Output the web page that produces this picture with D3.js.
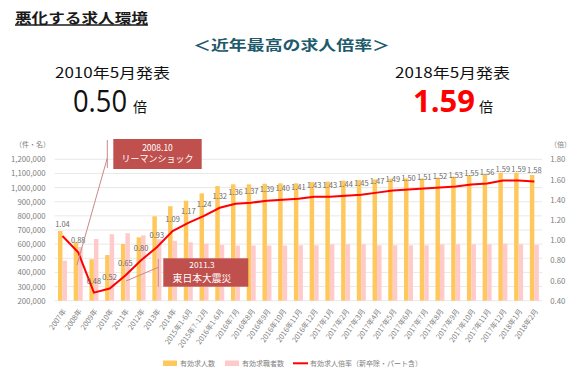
<!DOCTYPE html>
<html><head><meta charset="utf-8">
<script src="https://cdn.jsdelivr.net/npm/d3@7"></script>
<style>body{margin:0;background:#fff}svg{display:block}text{font-family:"Noto Sans CJK JP","Noto Sans",sans-serif}</style>
</head><body><svg id="c" width="581" height="381"></svg>
<script>
const categories = ["2007年","2008年","2009年","2010年","2011年","2012年","2013年","2014年","2015年1-6月","2015年7-12月","2016年1-6月","2016年7月","2016年8月","2016年9月","2016年10月","2016年11月","2016年12月","2017年1月","2017年2月","2017年3月","2017年4月","2017年5月","2017年6月","2017年7月","2017年8月","2017年9月","2017年10月","2017年11月","2017年12月","2018年1月","2018年2月"];
const jobOpenings = [693000,613000,493000,523000,601000,648000,797000,868000,907000,959000,1011000,1023000,1023000,1027000,1030000,1030000,1039000,1042000,1049000,1053000,1058000,1063000,1065000,1065000,1070000,1077000,1087000,1094000,1105000,1105000,1089000];
const jobSeekers = [483000,580000,636000,670000,677000,662000,635000,624000,613000,603000,594000,590000,590000,590000,590000,592000,592000,599000,599000,599000,592000,592000,592000,592000,598000,599000,599000,599000,603000,599000,595000];
const ratio = [1.04,0.88,0.48,0.52,0.65,0.80,0.93,1.09,1.17,1.24,1.32,1.36,1.37,1.39,1.40,1.41,1.43,1.43,1.44,1.45,1.47,1.49,1.50,1.51,1.52,1.53,1.55,1.56,1.59,1.59,1.58];
const leftTicks = [200000,300000,400000,500000,600000,700000,800000,900000,1000000,1100000,1200000];
const rightTicks = [0.4,0.6,0.8,1.0,1.2,1.4,1.6,1.8];
const seriesNames = ["有効求人数","有効求職者数","有効求人倍率（新卒除・パート含）"];

const svg = d3.select("#c");
const X0 = 54.6, X1 = 542.2, YB = 300.7, YT = 159.3;
const x = d3.scaleBand().domain(categories).range([X0, X1]).padding(0);
const xs = d3.scaleBand().domain(["o","s"]).range([0, x.bandwidth()]).paddingInner(0).paddingOuter(0.75);
const yL = d3.scaleLinear().domain([200000,1200000]).range([YB, YT]);
const yR = d3.scaleLinear().domain([0.4,1.8]).range([YB, YT]);
const cx = c => x(c) + x.bandwidth()/2;

// gridlines
svg.append("g").selectAll("line").data(leftTicks).join("line")
  .attr("x1", X0).attr("x2", X1).attr("y1", d => yL(d)).attr("y2", d => yL(d))
  .attr("stroke", "#e2e2e2").attr("stroke-width", 0.8);

// left axis
const gl = svg.append("g").attr("transform", `translate(${X0},0)`)
  .call(d3.axisLeft(yL).tickValues(leftTicks).tickFormat(d3.format(",")).tickSize(0).tickPadding(9));
gl.select(".domain").remove();
gl.selectAll("text").attr("fill", "#7f7f7f").style("font-size", "7.8px");

// right axis
const gr = svg.append("g").attr("transform", `translate(${X1},0)`)
  .call(d3.axisRight(yR).tickValues(rightTicks).tickFormat(d3.format(".2f")).tickSize(0).tickPadding(8));
gr.select(".domain").remove();
gr.selectAll("text").attr("fill", "#7f7f7f").style("font-size", "7.8px");

svg.append("text").attr("x", 15).attr("y", 146.5).text("（件・名）").attr("fill", "#7f7f7f").style("font-size", "7px");
svg.append("text").attr("x", 550).attr("y", 146.5).text("（倍）").attr("fill", "#7f7f7f").style("font-size", "7px");

// x axis
const gx = svg.append("g").attr("transform", `translate(0,${YB})`)
  .call(d3.axisBottom(x).tickSize(0).tickPadding(0));
gx.select(".domain").remove();
gx.selectAll("text").attr("y", 0).attr("dy", "0.35em")
  .attr("transform", "translate(2,9) rotate(-55)")
  .style("text-anchor", "end").attr("fill", "#7f7f7f").style("font-size", "7.3px");

// bars
svg.append("g").selectAll("rect").data(categories).join("rect")
  .attr("x", (c) => x(c) + xs("o")).attr("width", xs.bandwidth())
  .attr("y", (c, i) => yL(jobOpenings[i])).attr("height", (c, i) => YB - yL(jobOpenings[i]))
  .attr("fill", "#ffc85c");
svg.append("g").selectAll("rect").data(categories).join("rect")
  .attr("x", (c) => x(c) + xs("s")).attr("width", xs.bandwidth())
  .attr("y", (c, i) => yL(jobSeekers[i])).attr("height", (c, i) => YB - yL(jobSeekers[i]))
  .attr("fill", "#ffcaca");

// line
svg.append("path").datum(categories)
  .attr("d", d3.line().x(c => cx(c)).y((c, i) => yR(ratio[i])))
  .attr("fill", "none").attr("stroke", "#ff0000").attr("stroke-width", 2);

// data labels
svg.append("g").selectAll("text").data(categories).join("text")
  .attr("x", c => cx(c)).attr("y", (c, i) => yR(ratio[i]) - 9)
  .attr("text-anchor", "middle").text((c, i) => ratio[i].toFixed(2))
  .attr("fill", "#6b6b6b").style("font-size", "7.5px");

// annotations
const annColor = "#c0504d";
svg.append("line").attr("x1", 107.3).attr("y1", 140).attr("x2", 107.3).attr("y2", 168).attr("stroke", "#c98a88").attr("stroke-width", 1);
svg.append("line").attr("x1", 107.3).attr("y1", 158).attr("x2", 77).attr("y2", 265).attr("stroke", "#c98a88").attr("stroke-width", 1);
svg.append("rect").attr("x", 113.3).attr("y", 139).attr("width", 88.4).attr("height", 30).attr("fill", annColor);
svg.append("text").attr("x", 157.5).attr("y", 150.5).attr("text-anchor", "middle").text("2008.10").attr("fill", "#fff").style("font-size", "8.5px");
svg.append("text").attr("x", 157.5).attr("y", 162).attr("text-anchor", "middle").text("リーマンショック").attr("fill", "#fff").style("font-size", "9px");

svg.append("line").attr("x1", 158.3).attr("y1", 259).attr("x2", 158.3).attr("y2", 287).attr("stroke", "#c98a88").attr("stroke-width", 1);
svg.append("line").attr("x1", 158.3).attr("y1", 267.3).attr("x2", 126).attr("y2", 281).attr("stroke", "#c98a88").attr("stroke-width", 1);
svg.append("rect").attr("x", 163.3).attr("y", 258.3).attr("width", 85).attr("height", 28.4).attr("fill", annColor);
svg.append("text").attr("x", 202).attr("y", 268.3).attr("text-anchor", "middle").text("2011.3").attr("fill", "#fff").style("font-size", "8.3px");
svg.append("text").attr("x", 202).attr("y", 281.6).attr("text-anchor", "middle").text("東日本大震災").attr("fill", "#fff").style("font-size", "9.8px");

// legend
const lg = svg.append("g");
lg.append("rect").attr("x", 163).attr("y", 360.5).attr("width", 14).attr("height", 5.5).attr("fill", "#ffc85c");
lg.append("text").attr("x", 180).attr("y", 366).text(seriesNames[0]).attr("fill", "#7f7f7f").style("font-size", "7px");
lg.append("rect").attr("x", 225).attr("y", 360.5).attr("width", 14).attr("height", 5.5).attr("fill", "#ffcaca");
lg.append("text").attr("x", 242).attr("y", 366).text(seriesNames[1]).attr("fill", "#7f7f7f").style("font-size", "7px");
lg.append("line").attr("x1", 293).attr("x2", 308).attr("y1", 363.3).attr("y2", 363.3).attr("stroke", "#ff0000").attr("stroke-width", 2);
lg.append("text").attr("x", 310).attr("y", 366).text(seriesNames[2]).attr("fill", "#7f7f7f").style("font-size", "7px");

// titles
svg.append("text").attr("x", 15).attr("y", 22.5).text("悪化する求人環境")
  .attr("textLength", 133).attr("lengthAdjust", "spacingAndGlyphs")
  .style("font-size", "14px").style("font-weight", "bold").attr("fill", "#1a1a1a");
svg.append("line").attr("x1", 15).attr("x2", 148).attr("y1", 25).attr("y2", 25).attr("stroke", "#1a1a1a").attr("stroke-width", 1.3);
svg.append("text").attr("x", 193).attr("y", 49.5).text("＜近年最高の求人倍率＞")
  .attr("textLength", 197).attr("lengthAdjust", "spacingAndGlyphs")
  .style("font-size", "14px").style("font-weight", "bold").attr("fill", "#215a6b");
svg.append("text").attr("x", 55).attr("y", 77.5).text("2010年5月発表")
  .attr("textLength", 115).attr("lengthAdjust", "spacingAndGlyphs")
  .style("font-size", "14px").attr("fill", "#111");
svg.append("text").attr("x", 395).attr("y", 77.5).text("2018年5月発表")
  .attr("textLength", 115).attr("lengthAdjust", "spacingAndGlyphs")
  .style("font-size", "14px").attr("fill", "#111");
svg.append("text").attr("x", 73).attr("y", 111.5).text("0.50")
  .attr("textLength", 54).attr("lengthAdjust", "spacingAndGlyphs")
  .style("font-size", "31px").attr("fill", "#111").style("font-family", "'Open Sans','Noto Sans',sans-serif");
svg.append("text").attr("x", 133).attr("y", 111.5).text("倍").style("font-size", "14px").attr("fill", "#111");
svg.append("text").attr("x", 413).attr("y", 111.5).text("1.59")
  .attr("textLength", 62).attr("lengthAdjust", "spacingAndGlyphs")
  .style("font-size", "30px").style("font-weight", "bold").attr("fill", "#ff0000").style("font-family", "'Open Sans','Noto Sans',sans-serif");
svg.append("text").attr("x", 479).attr("y", 111.5).text("倍").style("font-size", "14px").attr("fill", "#111");
</script></body></html>
